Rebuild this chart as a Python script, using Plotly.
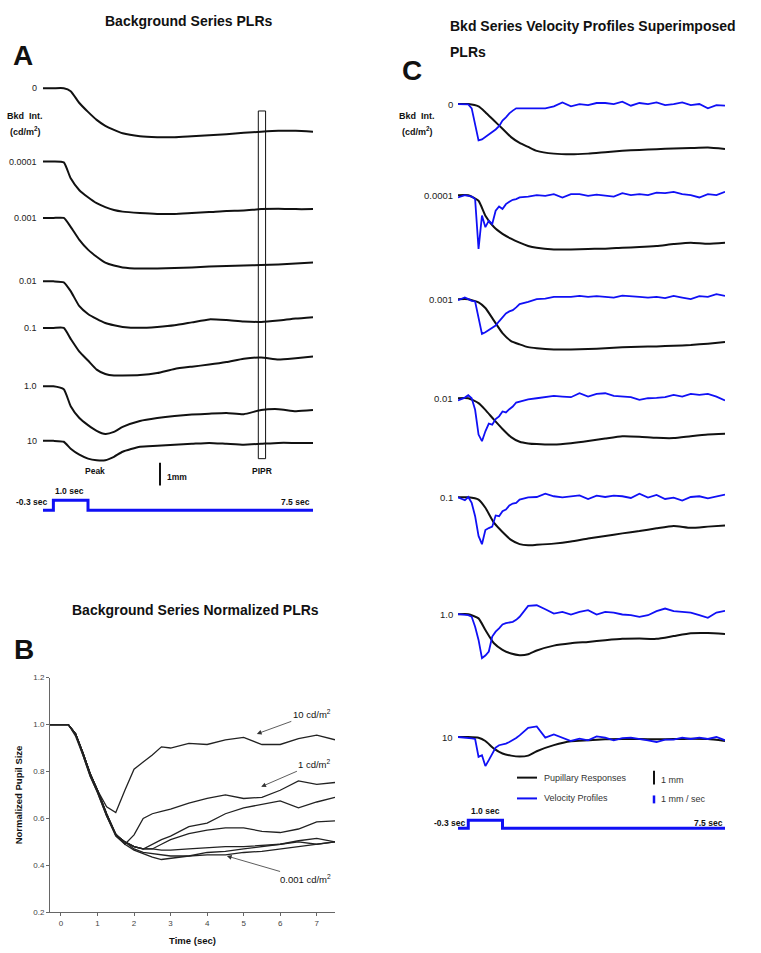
import plotly.graph_objects as go

W, H = 761, 953


def fx(px):
    return px / W


def fy(py):
    return 1 - py / H


# ------------------------------------------------------------------ data
intensities = ["0", "0.0001", "0.001", "0.01", "0.1", "1.0", "10"]

# time base of pupil traces (sec)
t_pupil = [-0.3, 0, 0.3, 0.5, 0.75, 1.0, 1.25, 1.5, 1.75, 2.0, 2.5, 3, 3.5, 4,
           4.5, 5, 5.5, 6, 6.5, 7, 7.5]

# Panel A: pupil change (mm) for each background intensity
plr_a_0 = [0, 0, 0, -0.13, -0.65, -1.04, -1.39, -1.65, -1.83, -1.98, -2.11, -2.15, -2.15, -2.11, -2.07, -2.02, -1.96, -1.91, -1.87, -1.87, -1.91]
plr_a_00001 = [0, 0, -0.04, -0.74, -1.26, -1.57, -1.83, -2.00, -2.13, -2.20, -2.26, -2.30, -2.30, -2.26, -2.22, -2.17, -2.15, -2.09, -2.07, -2.09, -2.09]
plr_a_0001 = [0, 0, 0, -0.39, -0.96, -1.39, -1.70, -1.96, -2.09, -2.17, -2.22, -2.22, -2.20, -2.17, -2.13, -2.11, -2.09, -2.07, -2.04, -2.00, -1.96]
plr_a_001 = [0, 0, -0.04, -0.43, -1.09, -1.43, -1.65, -1.83, -1.93, -2.00, -2.04, -2.00, -1.93, -1.80, -1.67, -1.70, -1.76, -1.78, -1.72, -1.63, -1.57]
plr_a_01 = [0, 0, 0, -0.48, -1.04, -1.43, -1.83, -2.02, -2.09, -2.09, -2.07, -1.98, -1.80, -1.70, -1.61, -1.50, -1.35, -1.30, -1.39, -1.33, -1.26]
plr_a_1 = [0, 0, -0.13, -0.87, -1.39, -1.70, -1.95, -2.09, -2.00, -1.78, -1.52, -1.39, -1.30, -1.24, -1.20, -1.17, -1.22, -1.04, -1.00, -1.09, -1.04]
plr_a_10 = [0, 0, -0.04, -0.35, -0.61, -0.78, -0.85, -0.85, -0.70, -0.48, -0.26, -0.22, -0.17, -0.13, -0.09, -0.13, -0.17, -0.13, -0.09, -0.09, -0.09]

# Panel C: pupil change (mm)
plr_c_0 = [0, 0, -0.10, -0.35, -0.71, -1.06, -1.42, -1.67, -1.84, -2.01, -2.13, -2.16, -2.13, -2.07, -2.01, -1.97, -1.94, -1.91, -1.89, -1.87, -1.93]
plr_c_00001 = [0, 0, -0.24, -0.88, -1.37, -1.66, -1.87, -2.04, -2.18, -2.26, -2.33, -2.33, -2.31, -2.30, -2.26, -2.23, -2.18, -2.10, -2.04, -2.09, -2.04]
plr_c_0001 = [0, 0, -0.14, -0.38, -0.92, -1.46, -1.80, -1.94, -2.06, -2.11, -2.16, -2.16, -2.14, -2.11, -2.07, -2.04, -2.03, -2.00, -1.97, -1.91, -1.84]
plr_c_001 = [0, 0, -0.21, -0.50, -0.92, -1.32, -1.67, -1.87, -1.94, -1.97, -1.99, -1.93, -1.84, -1.73, -1.63, -1.65, -1.70, -1.71, -1.63, -1.56, -1.53]
plr_c_01 = [0, 0, -0.10, -0.45, -1.09, -1.49, -1.83, -2.01, -2.06, -2.04, -1.99, -1.90, -1.77, -1.66, -1.55, -1.45, -1.33, -1.23, -1.31, -1.26, -1.21]
plr_c_1 = [0, 0, -0.18, -0.68, -1.25, -1.53, -1.69, -1.76, -1.72, -1.56, -1.35, -1.25, -1.19, -1.12, -1.06, -1.05, -1.06, -0.94, -0.82, -0.81, -0.85]
plr_c_10 = [0, 0, -0.03, -0.17, -0.50, -0.71, -0.80, -0.84, -0.80, -0.61, -0.35, -0.18, -0.14, -0.10, -0.09, -0.09, -0.10, -0.09, -0.07, -0.09, -0.17]

# Panel C: velocity profiles (mm/sec)
t_vel = [-0.3, -0.1, 0, 0.1, 0.2, 0.3, 0.4, 0.5, 0.6, 0.7, 0.8, 0.9, 1.0, 1.1,
         1.2, 1.3, 1.4, 1.5, 1.75, 2.0, 2.25, 2.5, 2.75, 3.0, 3.25, 3.5, 3.75,
         4.0, 4.25, 4.5, 4.75, 5.0, 5.25, 5.5, 5.75, 6.0, 6.25, 6.5, 6.75, 7.0,
         7.25, 7.5]
vel_0 = [0, 0, -0.04, -0.54, -2.71, -4.58, -4.46, -4.17, -3.88, -3.54, -3.21, -2.79, -2.08, -1.67, -1.17, -0.83, -0.54, -0.54,
         -0.54, -0.46, -0.54, -0.29, 0.21, -0.29, 0, -0.13, 0.13, 0.13, 0, 0.29, -0.21, 0.13, 0, 0.21, -0.13, 0, 0.21, -0.13, 0, -0.54, -0.13, -0.21]
vel_00001 = [-0.29, 0, -0.08, -0.17, -0.5, -6.79, -2.58, -4.04, -3.21, -3.63, -1.96, -1.42, -1.75, -1.13, -0.83, -0.58, -0.5, -0.29,
             -0.17, 0, -0.08, 0.13, -0.29, 0.13, 0.13, -0.08, 0.08, 0, -0.17, 0.25, 0, 0.13, 0, 0.33, 0.25, 0.42, 0.13, 0, -0.29, 0.13, 0, 0.42]
vel_0001 = [-0.13, 0.21, 0, -0.21, -0.29, -2.29, -4.38, -4.17, -3.88, -3.63, -3.33, -2.79, -2.29, -1.79, -1.54, -1.38, -1.04, -0.63,
            -0.33, 0, 0.08, 0.29, 0.29, 0.29, 0.42, 0.29, 0.38, 0.29, 0.21, 0.46, 0.42, 0.29, 0.21, 0.29, 0.13, 0.42, 0.21, 0, 0.38, 0.29, 0.63, 0.42]
vel_001 = [-0.29, 0.08, 0.38, 0, -1.46, -4.58, -5.42, -4.17, -3.21, -3.33, -2.63, -2.29, -1.67, -1.79, -1.38, -1.04, -0.54, -0.42,
           -0.13, 0, 0.13, 0.29, 0.21, 0.13, 0.63, 0.21, 0.54, 0.63, 0.29, 0.21, 0.13, -0.21, 0, 0.04, 0.13, 0.42, 0.21, 0.54, 0.42, 0.54, 0.21, -0.29]
vel_01 = [0, -0.38, 0.04, -0.71, -2.38, -4.88, -5.92, -4.13, -3.88, -3.71, -2.29, -2.38, -1.75, -1.54, -1.04, -0.79, -0.71, -0.29,
          0, 0.04, 0.46, 0.13, 0, 0.13, 0.25, -0.21, 0.21, 0.04, 0.21, 0.13, -0.08, 0.46, -0.04, 0.29, -0.21, -0.04, -0.42, 0.04, 0.13, -0.13, 0.13, 0.33]
vel_1 = [0, -0.04, -0.13, -0.33, -1.58, -3.25, -5.54, -5.21, -4.71, -2.83, -2.21, -1.79, -1.29, -1.13, -1.04, -0.96, -0.71, -0.33,
         1.04, 1.13, 0.63, 0.08, 0.29, -0.04, 0.29, 0.5, -0.04, 0.29, 0.21, -0.04, -0.13, -0.33, -0.13, 0.38, 0.71, 0.38, 0.29, 0.21, -0.13, -0.46, 0.21, 0.42]
vel_10 = [0, -0.04, -0.08, -0.17, -0.25, -2.5, -2.29, -3.67, -2.92, -2.08, -1.33, -1.04, -0.96, -0.83, -0.63, -0.42, -0.13, 0.21,
          1.17, 1.33, -0.08, 0.33, -0.08, -0.5, -0.21, -0.42, 0.08, -0.08, -0.42, -0.13, -0.08, -0.21, -0.42, -0.63, -0.33, -0.33, -0.08, -0.25, -0.08, -0.25, 0, -0.42]

# Panel B: normalized pupil size
t_norm = [-0.3, 0, 0.2, 0.4, 0.6, 0.8, 1.0, 1.25, 1.5, 1.75, 2.0, 2.25, 2.5,
          2.75, 3.0, 3.5, 4.0, 4.5, 5.0, 5.5, 6.0, 6.5, 7.0, 7.5]
norm_10 = [1, 1, 1, 0.96, 0.88, 0.79, 0.72, 0.65, 0.625, 0.72, 0.81, 0.84, 0.87, 0.905, 0.90, 0.92, 0.915, 0.935, 0.945, 0.915, 0.915, 0.94, 0.955, 0.935]
norm_1 = [1, 1, 1, 0.96, 0.88, 0.79, 0.72, 0.62, 0.535, 0.49, 0.53, 0.60, 0.62, 0.63, 0.64, 0.665, 0.685, 0.70, 0.685, 0.69, 0.72, 0.76, 0.745, 0.753]
norm_01 = [1, 1, 1, 0.96, 0.88, 0.79, 0.72, 0.62, 0.53, 0.50, 0.48, 0.47, 0.49, 0.51, 0.525, 0.565, 0.58, 0.62, 0.645, 0.66, 0.675, 0.645, 0.67, 0.69]
norm_001 = [1, 1, 1, 0.96, 0.88, 0.79, 0.72, 0.62, 0.53, 0.50, 0.48, 0.47, 0.47, 0.49, 0.51, 0.535, 0.55, 0.56, 0.56, 0.545, 0.54, 0.555, 0.585, 0.59]
norm_0001 = [1, 1, 1, 0.96, 0.88, 0.79, 0.72, 0.615, 0.53, 0.50, 0.47, 0.455, 0.45, 0.445, 0.44, 0.44, 0.445, 0.445, 0.455, 0.46, 0.47, 0.48, 0.49, 0.50]
norm_00001 = [1, 1, 1, 0.96, 0.87, 0.78, 0.71, 0.61, 0.525, 0.49, 0.465, 0.45, 0.435, 0.425, 0.43, 0.44, 0.455, 0.46, 0.47, 0.48, 0.49, 0.505, 0.515, 0.50]
norm_0 = [1, 1, 1, 0.95, 0.87, 0.78, 0.71, 0.61, 0.53, 0.50, 0.48, 0.47, 0.47, 0.465, 0.465, 0.47, 0.475, 0.48, 0.48, 0.485, 0.49, 0.50, 0.49, 0.50]

# stimulus timing
stim_t = [-0.3, 0, 1.0, 7.5]
stim_level = [0, 1, 0, 0]

# ------------------------------------------------------------------ layout helpers
plr_a = [plr_a_0, plr_a_00001, plr_a_0001, plr_a_001, plr_a_01, plr_a_1, plr_a_10]
plr_c = [plr_c_0, plr_c_00001, plr_c_0001, plr_c_001, plr_c_01, plr_c_1, plr_c_10]
vel_c = [vel_0, vel_00001, vel_0001, vel_001, vel_01, vel_1, vel_10]
norm_b = [norm_10, norm_1, norm_01, norm_001, norm_0001, norm_00001, norm_0]

A_BASE = [85, 159, 216, 280, 327, 386, 441]     # px baselines of rows
C_BASE = [101, 193, 298, 398, 498, 616, 740]
A_S, C_S, V_S = 23.0, 23.5, 8.0                  # px per mm, px per mm/s
LO, HI = -3.0, 0.8

BLACK = "#111111"
BLUE = "#1010f5"
FONT = "Arial, Liberation Sans, sans-serif"

fig = go.Figure()
layout = dict(
    width=W, height=H, autosize=False,
    margin=dict(l=0, r=0, t=0, b=0),
    paper_bgcolor="white", plot_bgcolor="rgba(0,0,0,0)",
    showlegend=False, font=dict(family=FONT, color=BLACK),
)

hidden = dict(visible=False, showgrid=False, zeroline=False, fixedrange=True)

layout["xaxis"] = dict(hidden, domain=[fx(43), fx(313)], range=[-0.3, 7.5], anchor="y")
layout["xaxis3"] = dict(hidden, domain=[fx(458), fx(725)], range=[-0.3, 7.5], anchor="y10")


def row_domain(base, scale):
    return [fy(base - LO * scale), fy(base - HI * scale)]


# Panel A rows
for i, (vals, base) in enumerate(zip(plr_a, A_BASE)):
    n = i + 1
    layout[f"yaxis{n}"] = dict(hidden, domain=row_domain(base, A_S), range=[LO, HI], anchor="x")
    fig.add_trace(go.Scatter(x=t_pupil, y=vals, mode="lines", xaxis="x", yaxis=f"y{n}",
                             line=dict(color=BLACK, width=2, shape="spline", smoothing=0.5)))

# Panel A stimulus
layout["yaxis8"] = dict(hidden, domain=[fy(511 + 5), fy(511 - 15)], range=[-0.5, 1.5], anchor="x")
fig.add_trace(go.Scatter(x=stim_t, y=stim_level, mode="lines", xaxis="x", yaxis="y8",
                         line=dict(color=BLUE, width=3, shape="hv")))

# Panel C rows
for i, (pv, vv, base) in enumerate(zip(plr_c, vel_c, C_BASE)):
    nb = 10 + i
    nv = 17 + i
    layout[f"yaxis{nb}"] = dict(hidden, domain=row_domain(base, C_S), range=[LO, HI], anchor="x3")
    layout[f"yaxis{nv}"] = dict(hidden, overlaying=f"y{nb}", anchor="x3",
                                range=[LO * C_S / V_S, HI * C_S / V_S])
    fig.add_trace(go.Scatter(x=t_pupil, y=pv, mode="lines", xaxis="x3", yaxis=f"y{nb}",
                             line=dict(color=BLACK, width=2, shape="spline", smoothing=0.5)))
    fig.add_trace(go.Scatter(x=t_vel, y=vv, mode="lines", xaxis="x3", yaxis=f"y{nv}",
                             line=dict(color=BLUE, width=1.8)))

# Panel C stimulus
layout["yaxis24"] = dict(hidden, domain=[fy(832 + 4), fy(832 - 12)], range=[-0.5, 1.5], anchor="x3")
fig.add_trace(go.Scatter(x=stim_t, y=stim_level, mode="lines", xaxis="x3", yaxis="y24",
                         line=dict(color=BLUE, width=3, shape="hv")))

# Panel B
layout["xaxis2"] = dict(domain=[fx(50), fx(335)], range=[-0.3, 7.5], anchor="y9",
                        showgrid=False, zeroline=False, showline=True, linecolor="#666",
                        linewidth=1, ticks="outside", ticklen=3, tickcolor="#666",
                        tick0=0, dtick=1, tickfont=dict(size=8, color="#444"),
                        title=dict(text="<b>Time (sec)</b>", font=dict(size=9.5, color=BLACK), standoff=10))
layout["yaxis9"] = dict(domain=[fy(917), fy(680)], range=[0.2, 1.2], anchor="x2",
                        showgrid=False, zeroline=False, showline=True, linecolor="#666",
                        linewidth=1, ticks="outside", ticklen=3, tickcolor="#666",
                        tick0=0.2, dtick=0.2, tickformat=".1f", tickfont=dict(size=8, color="#444"),
                        title=dict(text="<b>Normalized Pupil Size</b>", font=dict(size=9.5, color=BLACK), standoff=8))
for vals in norm_b:
    fig.add_trace(go.Scatter(x=t_norm, y=vals, mode="lines", xaxis="x2", yaxis="y9",
                             line=dict(color="#222", width=1.3)))

# ------------------------------------------------------------------ annotations
ann = []


def label(text, px, py, size=9, bold=False, xanchor="center", color=BLACK, **kw):
    t = f"<b>{text}</b>" if bold else text
    ann.append(dict(text=t, x=fx(px), y=fy(py), xref="paper", yref="paper",
                    xanchor=xanchor, yanchor="middle", showarrow=False,
                    font=dict(size=size, color=color, family=FONT), **kw))


# Panel A
label("Background Series PLRs", 188, 17, 14, True)
label("A", 23, 52, 28, True)
label("Bkd  Int.", 25, 113, 9, True)
label("(cd/m<sup>2</sup>)", 25, 128, 9, True)
for i, name in enumerate(intensities):
    ann.append(dict(text=name, x=fx(39), y=0, xref="paper", yref=f"y{i + 1}",
                    xanchor="right", yanchor="middle", showarrow=False,
                    font=dict(size=9, color="#222", family=FONT)))
label("Peak", 95, 471, 8.5, True)
label("1mm", 177, 478, 8.5, True)
label("PIPR", 262, 471, 8.5, True)
label("-0.3 sec", 49, 503, 8.5, True, xanchor="right")
label("1.0 sec", 69, 492, 8.5, True)
label("7.5 sec", 312, 503, 8.5, True, xanchor="right")

# Panel B
label("Background Series Normalized PLRs", 195, 612, 14, True)
label("B", 24, 652, 28, True)
arrow_notes = [("10 cd/m<sup>2</sup>", 5.36, 0.96, 55, -20),
               ("1 cd/m<sup>2</sup>", 5.48, 0.735, 53, -23),
               ("0.001 cd/m<sup>2</sup>", 4.54, 0.44, 79, 23)]
for text, xh, yh, axp, ayp in arrow_notes:
    ann.append(dict(text=text, x=xh, y=yh, xref="x2", yref="y9", ax=axp, ay=ayp,
                    showarrow=True, arrowhead=2, arrowsize=1.2, arrowwidth=0.8,
                    arrowcolor="#333", font=dict(size=9.5, color=BLACK, family=FONT)))

# Panel C
label("Bkd Series Velocity Profiles Superimposed", 448, 22, 14, True, xanchor="left")
label("PLRs", 448, 48, 14, True, xanchor="left")
label("C", 412, 67, 28, True)
label("Bkd  Int.", 417, 113, 9, True)
label("(cd/m<sup>2</sup>)", 417, 128, 9, True)
for i, name in enumerate(intensities):
    ann.append(dict(text=name, x=fx(455), y=0, xref="paper", yref=f"y{10 + i}",
                    xanchor="right", yanchor="middle", showarrow=False,
                    font=dict(size=9.5, color="#222", family=FONT)))
label("Pupillary Responses", 542, 781, 9, False, xanchor="left", color="#333")
label("Velocity Profiles", 542, 802, 9, False, xanchor="left", color="#333")
label("1 mm", 659, 783, 9, False, xanchor="left", color="#333")
label("1 mm / sec", 659, 803, 9, False, xanchor="left", color="#333")
label("-0.3 sec", 467, 827, 8.5, True, xanchor="right")
label("1.0 sec", 486, 815, 8.5, True)
label("7.5 sec", 725, 827, 8.5, True, xanchor="right")

layout["annotations"] = ann

# ------------------------------------------------------------------ shapes
shapes = []
# PIPR window
shapes.append(dict(type="rect", xref="x", yref="paper", x0=5.92, x1=6.13,
                   y0=fy(459), y1=fy(108), line=dict(color=BLACK, width=1)))
# 1 mm scale bar (panel A, in row "10" mm units)
shapes.append(dict(type="line", xref="x", yref="y7", x0=3.08, x1=3.08, y0=-0.96, y1=-1.96,
                   line=dict(color=BLACK, width=2)))


def pline(x0, y0, x1, y1, color, width):
    shapes.append(dict(type="line", xref="paper", yref="paper", x0=fx(x0), y0=fy(y0),
                       x1=fx(x1), y1=fy(y1), line=dict(color=color, width=width)))


# legend samples and scale bars in panel C
pline(517, 781, 537, 781, BLACK, 2)
pline(517, 802, 537, 802, BLUE, 2)
pline(654, 774, 654, 788, BLACK, 2)
pline(654, 799, 654, 807, BLUE, 2.5)
layout["shapes"] = shapes

fig.update_layout(**layout)
fig.write_html(
    "out.html",
    config={"displayModeBar": False},
    post_script="document.body.style.margin='0px';document.body.style.overflow='hidden';",
)
